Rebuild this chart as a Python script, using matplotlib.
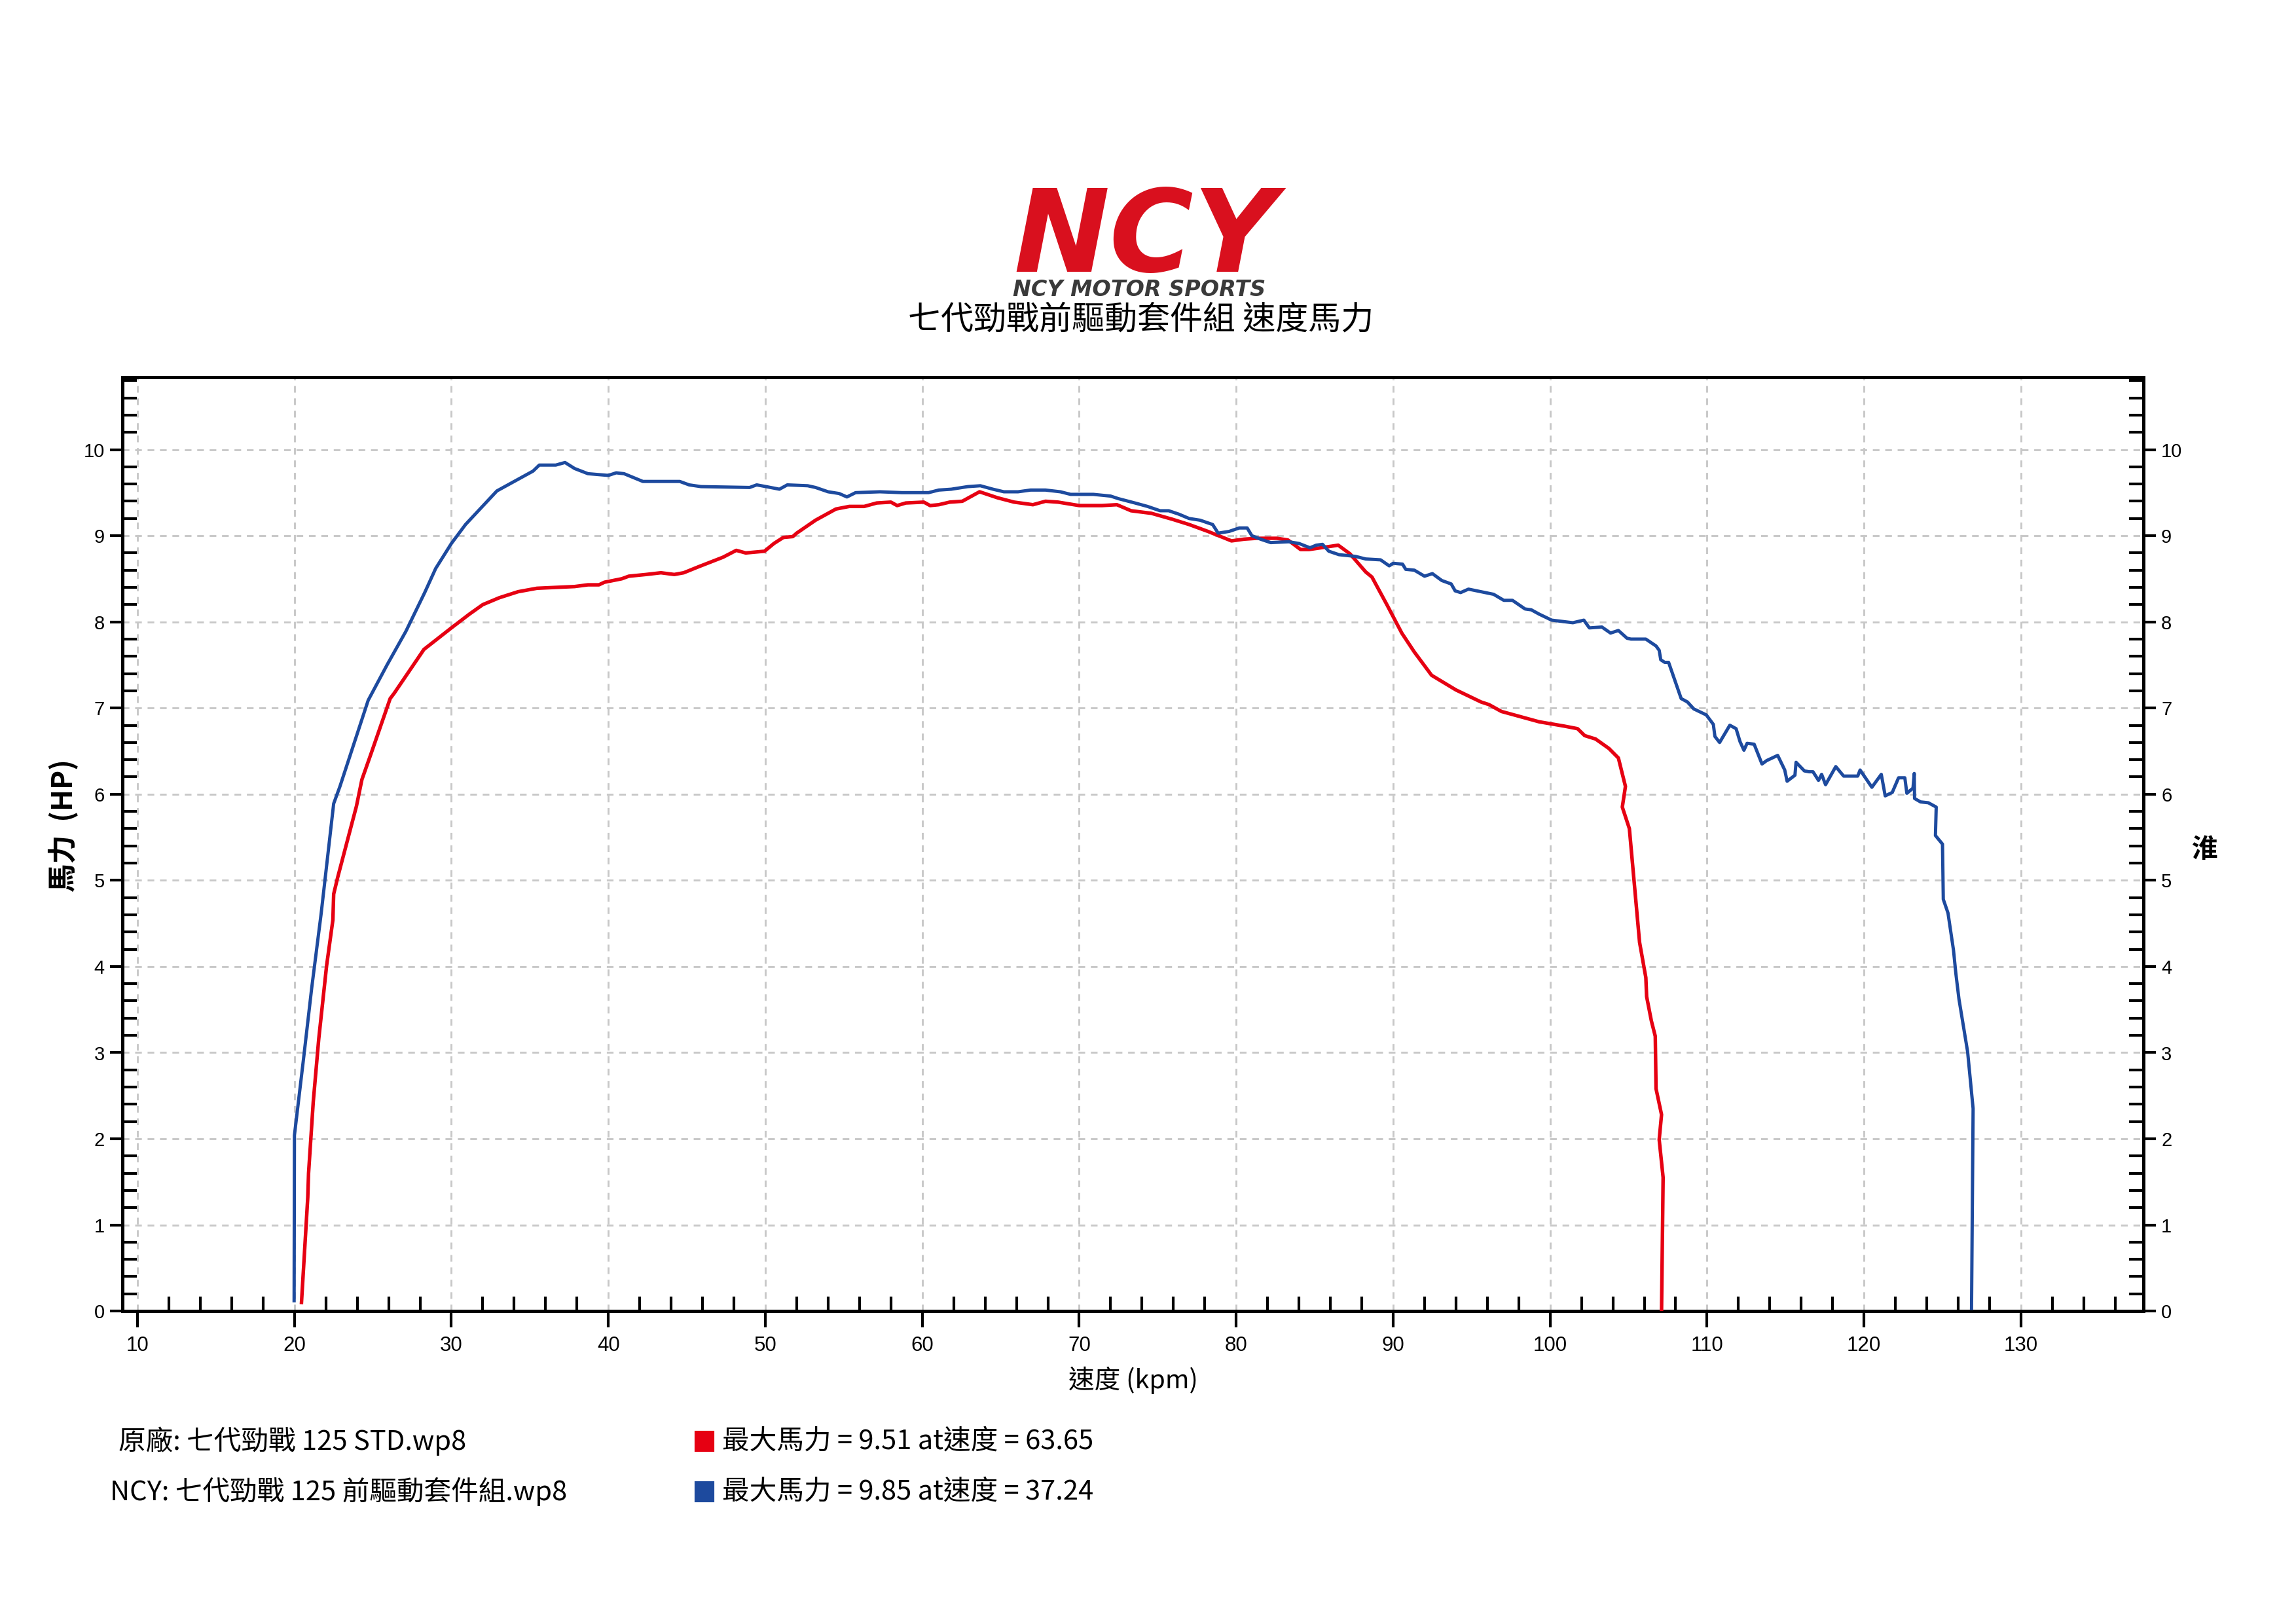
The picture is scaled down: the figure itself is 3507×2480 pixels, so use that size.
import matplotlib.pyplot as plt
from matplotlib.patches import Rectangle
from matplotlib.ticker import MultipleLocator
import numpy as np

# speed (kpm) / horsepower
std_speed = [20.45, 20.85, 20.9, 21.2, 21.55, 22.05, 22.45, 22.5, 22.75, 23.95, 24.3, 24.9,
             26.1, 26.35, 28.25, 30.0, 31.15, 32.0, 33.05, 34.25, 35.45, 37.85, 38.7, 39.4,
             39.75, 40.85, 41.3, 42.4, 43.35, 44.2, 44.8, 45.75, 47.3, 48.15, 48.75, 49.95,
             50.55, 51.15, 51.75, 52.0, 53.2, 54.5, 55.35, 56.3, 57.1, 58.0, 58.4, 58.95,
             60.1, 60.5, 61.05, 61.75, 62.55, 63.65, 64.8, 65.85, 67.05, 67.85, 68.65, 70.0,
             71.45, 72.4, 73.3, 74.6, 75.95, 77.0, 78.2, 79.7, 80.5, 81.3, 82.6, 83.3,
             84.1, 84.65, 86.5, 87.25, 88.25, 88.65, 89.6, 90.55, 91.35, 92.45, 94.0, 95.6,
             96.1, 96.9, 99.3, 100.9, 101.75, 102.2, 102.9, 103.75, 104.35, 104.8, 104.6, 105.05,
             105.7, 106.1, 106.15, 106.45, 106.7, 106.75, 107.1, 106.95, 107.2, 107.1]
std_hp = [0.1, 1.32, 1.6, 2.43, 3.16, 4.01, 4.54, 4.84, 5.03, 5.86, 6.17, 6.48,
          7.11, 7.17, 7.68, 7.93, 8.09, 8.2, 8.28, 8.35, 8.39, 8.41, 8.43, 8.43,
          8.46, 8.5, 8.53, 8.55, 8.57, 8.55, 8.57, 8.64, 8.75, 8.83, 8.8, 8.82,
          8.91, 8.98, 8.99, 9.03, 9.18, 9.31, 9.34, 9.34, 9.38, 9.39, 9.35, 9.38,
          9.39, 9.35, 9.36, 9.39, 9.4, 9.51, 9.44, 9.39, 9.36, 9.4, 9.39, 9.35,
          9.35, 9.36, 9.29, 9.26, 9.19, 9.13, 9.05, 8.94, 8.96, 8.97, 8.97, 8.95,
          8.84, 8.84, 8.89, 8.79, 8.58, 8.52, 8.2, 7.87, 7.65, 7.38, 7.21, 7.07,
          7.04, 6.96, 6.84, 6.79, 6.76, 6.68, 6.64, 6.53, 6.42, 6.09, 5.85, 5.6,
          4.28, 3.87, 3.65, 3.37, 3.19, 2.58, 2.28, 1.99, 1.55, 0.0]

ncy_speed = [19.98, 20.0, 20.6, 21.1, 21.7, 22.15, 22.5, 22.9, 24.7, 25.9, 27.1, 28.3,
             29.0, 30.0, 30.9, 32.9, 35.2, 35.6, 36.65, 37.24, 37.85, 38.7, 40.0, 40.5,
             41.0, 42.2, 44.55, 45.15, 45.9, 49.0, 49.45, 50.05, 50.9, 51.4, 52.7, 53.2,
             54.0, 54.7, 55.2, 55.75, 57.3, 58.7, 60.4, 61.05, 61.85, 62.9, 63.7, 64.5,
             65.2, 66.1, 66.9, 67.85, 68.8, 69.45, 70.9, 72.0, 72.5, 73.55, 74.35, 75.15,
             75.7, 76.35, 77.0, 77.7, 78.5, 78.85, 79.55, 80.2, 80.7, 81.0, 81.55, 82.2,
             83.35, 84.0, 84.7, 85.1, 85.5, 85.9, 86.55, 87.6, 88.25, 89.2, 89.75, 90.0,
             90.6, 90.8, 91.35, 92.0, 92.5, 93.1, 93.7, 93.95, 94.3, 94.8, 96.4, 97.05,
             97.6, 98.4, 98.8, 99.3, 100.1, 101.45, 102.15, 102.5, 103.3, 103.85, 104.35, 104.9,
             105.15, 106.1, 106.75, 106.95, 107.05, 107.3, 107.55, 108.35, 108.75, 109.15, 109.95, 110.4,
             110.5, 110.8, 111.45, 111.85, 112.1, 112.35, 112.55, 113.0, 113.5, 113.8, 114.5, 114.95,
             115.1, 115.6, 115.67, 116.2, 116.5, 116.75, 117.1, 117.3, 117.55, 118.2, 118.7, 119.6,
             119.75, 120.5, 121.1, 121.35, 121.8, 122.2, 122.6, 122.73, 123.12, 123.2, 123.22, 123.6,
             124.1, 124.6, 124.55, 125.0, 125.05, 125.35, 125.7, 125.85, 126.05, 126.6, 126.95, 126.85]
ncy_hp = [0.12, 2.04, 2.96, 3.75, 4.61, 5.33, 5.89, 6.09, 7.09, 7.5, 7.89, 8.34,
          8.62, 8.91, 9.13, 9.52, 9.75, 9.82, 9.82, 9.85, 9.78, 9.72, 9.70, 9.73,
          9.72, 9.63, 9.63, 9.59, 9.57, 9.56, 9.59, 9.57, 9.54, 9.59, 9.58, 9.56,
          9.51, 9.49, 9.45, 9.50, 9.51, 9.50, 9.50, 9.53, 9.54, 9.57, 9.58, 9.54,
          9.51, 9.51, 9.53, 9.53, 9.51, 9.48, 9.48, 9.46, 9.43, 9.38, 9.34, 9.29,
          9.29, 9.25, 9.20, 9.18, 9.13, 9.03, 9.05, 9.09, 9.09, 9.00, 8.96, 8.92,
          8.93, 8.91, 8.86, 8.89, 8.90, 8.82, 8.78, 8.76, 8.73, 8.72, 8.65, 8.68,
          8.67, 8.61, 8.60, 8.53, 8.56, 8.48, 8.44, 8.36, 8.34, 8.38, 8.32, 8.25,
          8.25, 8.15, 8.14, 8.09, 8.02, 7.99, 8.02, 7.93, 7.94, 7.87, 7.90, 7.81,
          7.80, 7.80, 7.72, 7.67, 7.56, 7.53, 7.53, 7.11, 7.07, 6.99, 6.92, 6.81,
          6.67, 6.60, 6.80, 6.76, 6.61, 6.51, 6.59, 6.58, 6.35, 6.39, 6.45, 6.28,
          6.15, 6.22, 6.37, 6.27, 6.26, 6.26, 6.16, 6.23, 6.11, 6.32, 6.21, 6.21,
          6.28, 6.08, 6.23, 5.98, 6.02, 6.19, 6.19, 6.01, 6.07, 6.24, 5.95, 5.91,
          5.90, 5.85, 5.52, 5.42, 4.78, 4.62, 4.19, 3.92, 3.62, 3.01, 2.35, 0.03]

run_names = ["原廠: 七代勁戰 125 STD.wp8", "NCY: 七代勁戰 125 前驅動套件組.wp8"]
run_colors = ["#E60012", "#1D4A9E"]

cjk = ['Noto Sans CJK TC', 'DejaVu Sans']

fig = plt.figure(figsize=(11.693, 8.267), dpi=300)
ax = fig.add_axes([0.0533, 0.1927, 0.880, 0.575])

ax.plot(std_speed, std_hp, color=run_colors[0], lw=1.3, zorder=3)
ax.plot(ncy_speed, ncy_hp, color=run_colors[1], lw=1.2, zorder=3)

ax.set_xlim(9.04, 137.8)
ax.set_ylim(0, 10.84)

# ticks: majors point out, minors point in
ax.xaxis.set_major_locator(MultipleLocator(10))
ax.xaxis.set_minor_locator(MultipleLocator(2))
ax.yaxis.set_major_locator(MultipleLocator(1))
ax.yaxis.set_minor_locator(MultipleLocator(0.2))
ax.tick_params(which='major', direction='out', length=4.5, width=1.0, right=True, labelright=True)
ax.tick_params(which='minor', direction='in', length=5.3, width=1.0, right=True)
ax.tick_params(axis='x', which='major', length=6, pad=3)
ax.tick_params(axis='y', which='major', labelsize=7, pad=2)
for lab in ax.get_yticklabels():
    lab.set_fontfamily('Liberation Sans')
for lab in ax.get_xticklabels():
    lab.set_fontfamily(['Liberation Sans Narrow', 'Liberation Sans'])
    lab.set_fontsize(7.5)

for s in ax.spines.values():
    s.set_linewidth(1.2)

ax.grid(True, which='major', color='#C8C8C8', linestyle=(0, (3.5, 3)), lw=0.7)
ax.xaxis.get_gridlines()[0].set_visible(False)
ax.set_axisbelow(True)

ax.set_xlabel("速度 (kpm)", family=cjk, fontsize=9.5, labelpad=4)
ax.set_ylabel("馬力  (HP)", family=cjk, fontsize=10.5, fontweight='bold')
ax.yaxis.set_label_coords(-0.022, 0.52)
fig.text(0.9598, 0.477, "淮", family=cjk, fontsize=9.5, fontweight='bold', ha='center', va='center')

# logo + title
fig.text(0.4985, 0.8325, "NCY", color='#D9101E', fontsize=42, fontweight='heavy', style='italic',
         family='DejaVu Sans', ha='center', va='baseline')
fig.text(0.496, 0.8215, "NCY MOTOR SPORTS", color='#3A3A3A', fontsize=8, fontweight='bold',
         style='italic', family='DejaVu Sans', ha='center', va='center')
fig.text(0.4967, 0.803, "七代勁戰前驅動套件組 速度馬力", family=cjk, fontsize=12,
         ha='center', va='center')

# bottom legend
name_x = [0.0516, 0.048]
row_y = [0.1125, 0.0815]
for i, (spd, hp) in enumerate([(std_speed, std_hp), (ncy_speed, ncy_hp)]):
    k = int(np.argmax(hp))
    fig.text(name_x[i], row_y[i], run_names[i], family=cjk, fontsize=10, va='center')
    fig.add_artist(Rectangle((0.3031, row_y[i] - 0.0055), 0.0074, 0.011,
                             transform=fig.transFigure, color=run_colors[i]))
    fig.text(0.3144, row_y[i], f"最大馬力 = {hp[k]:.2f} at速度 = {spd[k]:.2f}",
             family=cjk, fontsize=10, va='center')

fig.savefig("out.png", dpi=300)
